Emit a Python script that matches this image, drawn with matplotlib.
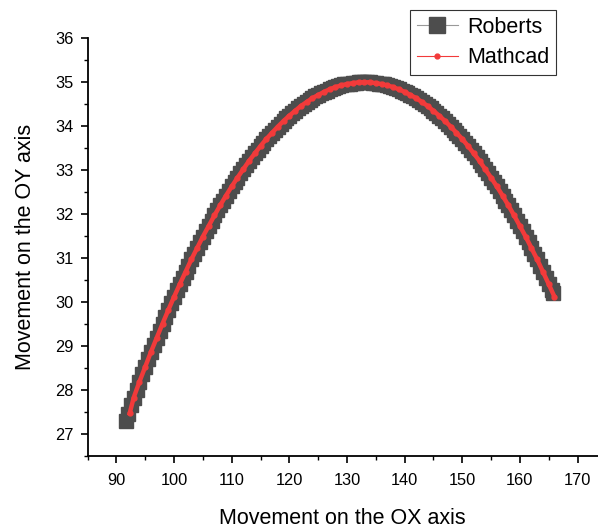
import matplotlib
matplotlib.use("Agg")
import matplotlib.pyplot as plt
from matplotlib.ticker import MultipleLocator
from matplotlib.lines import Line2D

plt.rcParams['font.family'] = ['Liberation Sans', 'DejaVu Sans']

# Roberts (grey squares)
roberts_x = [91.6, 92, 92.5, 93, 93.5, 94, 94.5, 95, 95.5, 96, 96.5, 97, 97.5, 98, 98.5, 99,
             99.5, 100, 100.5, 101, 101.5, 102, 102.5, 103, 103.5, 104, 104.5, 105, 105.5,
             106, 106.5, 107, 107.5, 108, 108.5, 109, 109.5, 110, 110.5, 111, 111.5, 112,
             112.5, 113, 113.5, 114, 114.5, 115, 115.5, 116, 116.5, 117, 117.5, 118, 118.5,
             119, 119.5, 120, 120.5, 121, 121.5, 122, 122.5, 123, 123.5, 124, 124.5, 125,
             125.5, 126, 126.5, 127, 127.5, 128, 128.5, 129, 129.5, 130, 130.5, 131, 131.5,
             132, 132.5, 133, 133.5, 134, 134.5, 135, 135.5, 136, 136.5, 137, 137.5, 138,
             138.5, 139, 139.5, 140, 140.5, 141, 141.5, 142, 142.5, 143, 143.5, 144, 144.5,
             145, 145.5, 146, 146.5, 147, 147.5, 148, 148.5, 149, 149.5, 150, 150.5, 151,
             151.5, 152, 152.5, 153, 153.5, 154, 154.5, 155, 155.5, 156, 156.5, 157, 157.5,
             158, 158.5, 159, 159.5, 160, 160.5, 161, 161.5, 162, 162.5, 163, 163.5, 164,
             164.5, 165, 165.5, 165.8]
roberts_y = [27.30, 27.45, 27.65, 27.83, 28.01, 28.19, 28.36, 28.53, 28.70, 28.87, 29.03, 29.19,
             29.35, 29.51, 29.67, 29.82, 29.97, 30.12, 30.27, 30.41, 30.55, 30.69, 30.83, 30.97,
             31.10, 31.23, 31.36, 31.49, 31.61, 31.73, 31.85, 31.97, 32.09, 32.20, 32.31, 32.42,
             32.53, 32.63, 32.73, 32.83, 32.93, 33.02, 33.12, 33.21, 33.30, 33.38, 33.47, 33.55,
             33.63, 33.71, 33.78, 33.85, 33.92, 33.99, 34.06, 34.12, 34.18, 34.24, 34.30, 34.35,
             34.41, 34.46, 34.51, 34.55, 34.60, 34.64, 34.68, 34.71, 34.75, 34.78, 34.81, 34.84,
             34.86, 34.89, 34.91, 34.93, 34.95, 34.96, 34.97, 34.98, 34.99, 35.00, 35.00, 35.00,
             35.00, 35.00, 34.99, 34.98, 34.97, 34.96, 34.95, 34.93, 34.91, 34.89, 34.86, 34.84,
             34.81, 34.78, 34.75, 34.71, 34.68, 34.64, 34.60, 34.55, 34.51, 34.46, 34.41, 34.35,
             34.30, 34.24, 34.18, 34.12, 34.06, 33.99, 33.92, 33.85, 33.78, 33.71, 33.63, 33.55,
             33.47, 33.38, 33.30, 33.21, 33.12, 33.02, 32.93, 32.83, 32.73, 32.63, 32.53, 32.42,
             32.31, 32.20, 32.09, 31.97, 31.85, 31.73, 31.61, 31.49, 31.36, 31.23, 31.10, 30.97,
             30.83, 30.69, 30.55, 30.41, 30.27, 30.20]

# Mathcad (red line)
mathcad_x = [92.3, 93, 94, 95, 96, 97, 98, 99, 100, 101, 102, 103, 104, 105, 106, 107, 108,
             109, 110, 111, 112, 113, 114, 115, 116, 117, 118, 119, 120, 121, 122, 123, 124,
             125, 126, 127, 128, 129, 130, 131, 132, 133, 134, 135, 136, 137, 138, 139, 140,
             141, 142, 143, 144, 145, 146, 147, 148, 149, 150, 151, 152, 153, 154, 155, 156,
             157, 158, 159, 160, 161, 162, 163, 164, 165, 166]
mathcad_y = [27.47, 27.83, 28.19, 28.53, 28.87, 29.19, 29.51, 29.82, 30.12, 30.41, 30.69, 30.97,
             31.23, 31.49, 31.73, 31.97, 32.20, 32.42, 32.63, 32.83, 33.02, 33.21, 33.38, 33.55,
             33.71, 33.85, 33.99, 34.12, 34.24, 34.35, 34.46, 34.55, 34.64, 34.71, 34.78, 34.84,
             34.89, 34.93, 34.96, 34.98, 35.00, 35.00, 35.00, 34.98, 34.96, 34.93, 34.89, 34.84,
             34.78, 34.71, 34.64, 34.55, 34.46, 34.35, 34.24, 34.12, 33.99, 33.85, 33.71, 33.55,
             33.38, 33.21, 33.02, 32.83, 32.63, 32.42, 32.20, 31.97, 31.73, 31.49, 31.23, 30.97,
             30.69, 30.41, 30.12]

GREY = '#4d4d4d'
RED = '#f23a3a'

fig = plt.figure(figsize=(5.98, 5.29), dpi=100)
ax = fig.add_axes([0.1465, 0.138, 0.853, 0.7896])

ax.plot(roberts_x, roberts_y, color='#888888', lw=0.8, marker='s', ms=10.5,
        mfc=GREY, mec=GREY, label='Roberts')
ax.plot(mathcad_x, mathcad_y, color=RED, lw=3.2, marker='o', ms=3.5,
        mfc=RED, mec=RED, label='Mathcad')

ax.set_xlim(85, 173.5)
ax.set_ylim(26.5, 36)
ax.xaxis.set_minor_locator(MultipleLocator(5))
ax.yaxis.set_minor_locator(MultipleLocator(0.5))
ax.set_xticks(range(90, 171, 10))
ax.set_yticks(range(27, 37))

for s in ['top', 'right']:
    ax.spines[s].set_visible(False)
for s in ['left', 'bottom']:
    ax.spines[s].set_linewidth(1.3)
ax.tick_params(which='major', direction='out', length=5, width=1.2, labelsize=11.8)
ax.tick_params(axis='x', which='major', pad=7)
ax.tick_params(axis='y', which='major', pad=5)
ax.tick_params(which='minor', direction='out', length=3, width=1.0)

ax.set_xlabel('Movement on the OX axis', fontsize=15.5, labelpad=15)
ax.set_ylabel('Movement on the OY axis', fontsize=15.5, labelpad=14)

handles = [
    Line2D([], [], color='#999999', lw=0.8, marker='s', ms=11.5, mfc=GREY, mec=GREY),
    Line2D([], [], color=RED, lw=0.8, marker='o', ms=3.5, mfc=RED, mec=RED),
]
leg = fig.legend(handles, ['Roberts', 'Mathcad'], loc='upper right',
                 bbox_to_anchor=(0.93, 0.981), fontsize=15.5,
                 frameon=True, fancybox=False, edgecolor='#333333', framealpha=1,
                 handlelength=1.9, borderpad=0.3, labelspacing=0.45, handletextpad=0.45,
                 borderaxespad=0)
leg.get_frame().set_linewidth(0.8)

fig.savefig('out.png', dpi=100)
